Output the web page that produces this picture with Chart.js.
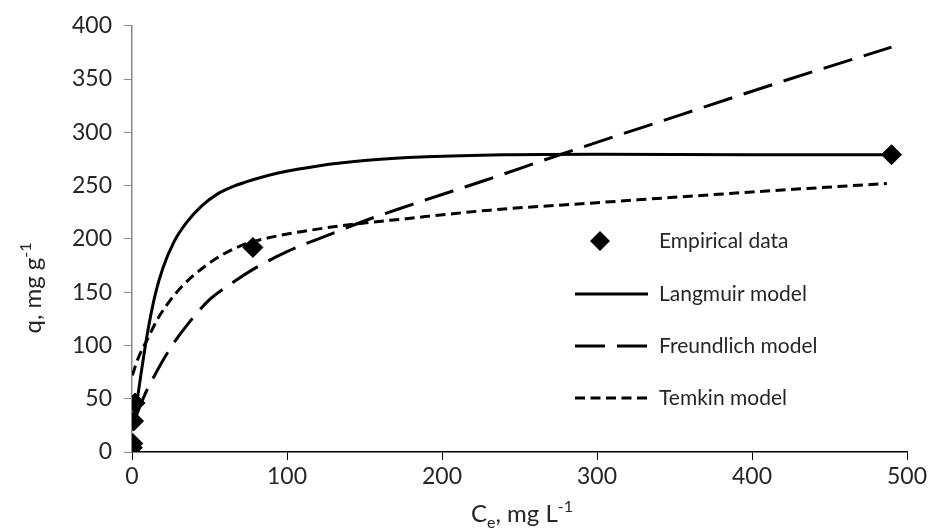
<!DOCTYPE html>
<html>
<head>
<meta charset="utf-8">
<script src="https://cdn.jsdelivr.net/npm/chart.js@4/dist/chart.umd.min.js"></script>
<style>
  html, body { margin: 0; padding: 0; background: #fff; }
  #box { width: 940px; height: 531px; }
</style>
</head>
<body>
<div id="box"><canvas id="chart" width="940" height="531"></canvas></div>
<script>
// empirical isotherm points (Ce, q)
const ceEmpirical = [0.2, 0.5, 1, 2, 78, 490];
const qEmpirical = [4, 8, 29, 46, 192, 279];

// model curves
const ceLangmuir = [2.5, 6, 10, 15, 20, 27, 35, 45, 55, 65, 78, 95, 120, 150, 190, 240, 300, 400, 490];
const qLangmuir = [40, 75, 112, 148, 173, 197, 215, 231, 242, 249, 255.5, 262, 268.5, 273.5, 277, 279, 279.5, 279, 279];

const ceFreundlich = [2.5, 8, 15, 25, 36, 50, 65, 80, 100, 129, 152, 180, 207, 228, 276, 353, 420, 490];
const qFreundlich = [33, 53, 73, 98, 120, 143, 159, 173, 188, 205, 218, 232, 245, 255, 279, 316, 348, 380];

const ceTemkin = [0.2, 4, 10, 17, 25, 34, 45, 57, 70, 85, 108, 136, 177, 231, 300, 400, 487];
const qTemkin = [72, 88, 106, 126, 143, 158, 172, 184, 193.5, 200, 206.5, 212.5, 219, 227, 234, 244, 252];

const legendLabels = ['Empirical data', 'Langmuir model', 'Freundlich model', 'Temkin model'];

const FONT = 'Lato, "Open Sans", sans-serif';
const TEXT = '#262626';

const toXY = (xs, ys) => xs.map((x, i) => ({ x: x, y: ys[i] }));

const lineSet = (label, xs, ys, dash) => ({
  label: label,
  data: toXY(xs, ys),
  showLine: true,
  borderColor: '#000',
  borderWidth: 3,
  borderDash: dash,
  pointRadius: 0,
  cubicInterpolationMode: 'monotone',
  fill: false
});

// axis titles with sub/superscripts and the in-plot legend
const annotations = {
  id: 'annotations',
  afterDraw(chart) {
    const ctx = chart.ctx;
    ctx.save();
    ctx.fillStyle = TEXT;
    ctx.textBaseline = 'alphabetic';

    // x title: Ce, mg L-1
    const big = '24px ' + FONT, small = '16px ' + FONT;
    const parts = [['C', big, 0], ['e', small, 6], [', mg L', big, 0], ['-1', small, -10]];
    let w = 0;
    parts.forEach(p => { ctx.font = p[1]; w += ctx.measureText(p[0]).width; });
    let x = 522 - w / 2;
    parts.forEach(p => {
      ctx.font = p[1];
      ctx.fillText(p[0], x, 522 + p[2]);
      x += ctx.measureText(p[0]).width;
    });

    // y title: q, mg g-1 (rotated)
    ctx.save();
    ctx.translate(41, 288);
    ctx.rotate(-Math.PI / 2);
    const yparts = [['q, mg g', big, 0], ['-1', small, -10]];
    w = 0;
    yparts.forEach(p => { ctx.font = p[1]; w += ctx.measureText(p[0]).width; });
    x = -w / 2;
    yparts.forEach(p => {
      ctx.font = p[1];
      ctx.fillText(p[0], x, p[2]);
      x += ctx.measureText(p[0]).width;
    });
    ctx.restore();

    // legend
    ctx.font = '21px ' + FONT;
    ctx.textBaseline = 'middle';
    const rows = [241, 294, 346, 398];
    rows.forEach((ry, i) => ctx.fillText(legendLabels[i], 659, ry));

    ctx.beginPath();
    ctx.moveTo(600, rows[0] - 10);
    ctx.lineTo(610, rows[0]);
    ctx.lineTo(600, rows[0] + 10);
    ctx.lineTo(590, rows[0]);
    ctx.closePath();
    ctx.fillStyle = '#000';
    ctx.fill();

    ctx.strokeStyle = '#000';
    ctx.lineWidth = 3;
    [[], [30, 12], [10, 5.5]].forEach((d, i) => {
      ctx.setLineDash(d);
      ctx.beginPath();
      ctx.moveTo(575, rows[i + 1]);
      ctx.lineTo(648, rows[i + 1]);
      ctx.stroke();
    });
    ctx.restore();
  }
};

new Chart(document.getElementById('chart'), {
  type: 'scatter',
  data: {
    datasets: [
      {
        label: legendLabels[0],
        data: toXY(ceEmpirical, qEmpirical),
        pointStyle: 'rectRot',
        pointRadius: 10,
        pointBackgroundColor: '#000',
        pointBorderColor: '#000',
        showLine: false
      },
      lineSet(legendLabels[1], ceLangmuir, qLangmuir, []),
      lineSet(legendLabels[2], ceFreundlich, qFreundlich, [30, 12]),
      lineSet(legendLabels[3], ceTemkin, qTemkin, [10, 5.5])
    ]
  },
  options: {
    responsive: false,
    animation: false,
    devicePixelRatio: 1,
    layout: { padding: { top: 23, right: 33, left: 0, bottom: 0 } },
    plugins: {
      legend: { display: false },
      tooltip: { enabled: false }
    },
    scales: {
      x: {
        type: 'linear',
        min: 0,
        max: 500,
        ticks: { stepSize: 100, color: TEXT, font: { family: FONT, size: 23 }, padding: 3 },
        grid: { drawOnChartArea: false, drawTicks: true, tickLength: 8, color: '#000' },
        border: { color: '#000', width: 1.5 },
        afterFit: (s) => { s.height = 79; }
      },
      y: {
        min: 0,
        max: 400,
        ticks: { stepSize: 50, color: TEXT, font: { family: FONT, size: 23 }, padding: 12 },
        grid: { drawOnChartArea: false, drawTicks: true, tickLength: 8, color: '#888' },
        border: { color: '#888', width: 1.5 },
        afterFit: (s) => { s.width = 132; }
      }
    }
  },
  plugins: [annotations]
});
</script>
</body>
</html>
